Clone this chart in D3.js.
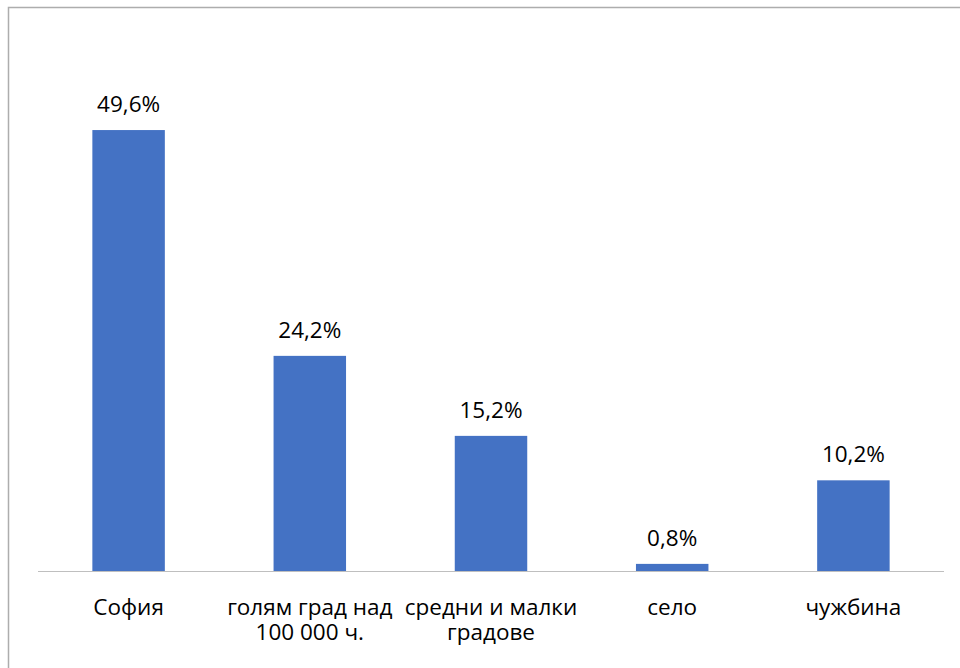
<!DOCTYPE html>
<html><head><meta charset="utf-8">
<script src="https://cdn.jsdelivr.net/npm/d3@7"></script>
<style>body{margin:0;background:#fff}svg{display:block}text{font-family:"Open Sans",sans-serif;fill:#000}</style>
</head><body><svg id="c" width="960" height="668"></svg>
<script>
const categories = ["София", "голям град над\n100 000 ч.", "средни и малки\nградове", "село", "чужбина"];
const values = [49.6, 24.2, 15.2, 0.8, 10.2];
const valueLabels = ["49,6%", "24,2%", "15,2%", "0,8%", "10,2%"];

const svg = d3.select("#c");
const W = 960, H = 668;
const left = 38, right = 944, base = 571;

svg.append("rect").attr("x", 8.5).attr("y", 7.5).attr("width", W + 10).attr("height", H + 10)
  .attr("fill", "#fff").attr("stroke", "#adadad").attr("stroke-width", 1.5);

const x = d3.scaleBand().domain(categories).range([left, right]).paddingInner(0.6).paddingOuter(0.3);
const y = d3.scaleLinear().domain([0, 60]).range([base, base - 533.4]);

svg.selectAll("rect.bar").data(values).join("rect").attr("class", "bar")
  .attr("x", (d, i) => x(categories[i])).attr("width", x.bandwidth())
  .attr("y", d => y(d)).attr("height", d => y(0) - y(d)).attr("fill", "#4472C4");

svg.append("line").attr("x1", left).attr("x2", right).attr("y1", base + 0.5).attr("y2", base + 0.5)
  .attr("stroke", "#bfbfbf").attr("stroke-width", 1);

svg.selectAll("text.val").data(values).join("text").attr("class", "val")
  .attr("x", (d, i) => x(categories[i]) + x.bandwidth() / 2).attr("y", d => y(d) - 18)
  .attr("text-anchor", "middle").style("font-size", "22.5px").text((d, i) => valueLabels[i]);

const lines = [];
categories.forEach(c => c.split("\n").forEach((ln, j) => lines.push({ c, ln, j })));
svg.selectAll("text.cat").data(lines).join("text").attr("class", "cat")
  .attr("x", d => x(d.c) + x.bandwidth() / 2).attr("y", d => 615 + d.j * 25)
  .attr("text-anchor", "middle").style("font-size", "22.5px").text(d => d.ln);
</script></body></html>
